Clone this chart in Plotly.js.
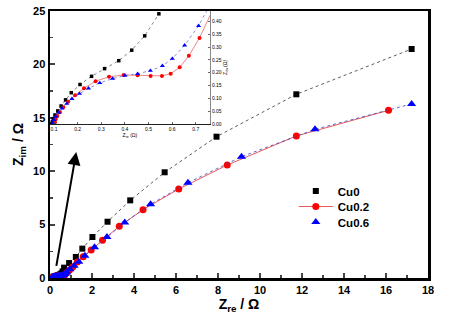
<!DOCTYPE html>
<html><head><meta charset="utf-8">
<script src="https://cdn.plot.ly/plotly-3.0.1.min.js"></script>
<style>html,body{margin:0;padding:0;background:#fff;}#chart{width:450px;height:316px;}</style>
</head><body><div id="chart"></div>
<script>
const seriesNames = ["Cu0", "Cu0.2", "Cu0.6"];
const cu0_x = [0.09,0.093,0.097,0.104,0.116,0.13,0.149,0.173,0.21,0.259,0.314,0.374,0.429,0.484,0.544,0.60,0.67,0.91,1.23,1.54,2.02,2.74,3.82,5.46,7.93,11.73,17.22];
const cu0_y = [0.0,0.009,0.021,0.035,0.051,0.07,0.094,0.122,0.154,0.186,0.216,0.247,0.288,0.344,0.43,0.62,0.97,1.4,1.97,2.75,3.84,5.27,7.27,9.9,13.23,17.2,21.44];
const cu02_x = [0.104,0.107,0.114,0.125,0.139,0.16,0.189,0.227,0.276,0.333,0.395,0.454,0.509,0.557,0.594,0.632,0.671,0.716,0.80,0.93,1.08,1.30,1.58,1.96,2.50,3.30,4.43,6.13,8.44,11.73,16.12];
const cu02_y = [0.007,0.018,0.031,0.046,0.065,0.087,0.112,0.139,0.167,0.184,0.191,0.19,0.1875,0.1875,0.196,0.221,0.266,0.336,0.5,0.74,1.03,1.5,2.0,2.62,3.53,4.84,6.4,8.33,10.58,13.3,15.7];
const cu06_x = [0.095,0.1,0.108,0.12,0.134,0.154,0.176,0.208,0.246,0.294,0.348,0.40,0.454,0.508,0.559,0.601,0.653,0.712,0.80,0.95,1.15,1.37,1.66,2.12,2.71,3.56,4.79,6.57,9.12,12.62,17.22];
const cu06_y = [0.003,0.016,0.029,0.044,0.061,0.079,0.098,0.118,0.139,0.16,0.177,0.189,0.196,0.208,0.227,0.255,0.307,0.383,0.55,0.82,1.15,1.53,2.09,2.87,3.84,5.2,6.9,8.92,11.36,13.92,16.3];
const insetTickVals = [0.1,0.2,0.3,0.4,0.5,0.6,0.7];
const insetTickText = ["0.1","0.2","0.3","0.4","0.5","0.6","0.7"];
const arrowFrom = [0.29, 1.0];
const arrowTo = [1.25, 11.8];

const F = "Liberation Sans, Arial, sans-serif";
const styles = [
  {color:"#000000", symbol:"square", size:6, line:{color:"#333", width:0.8, dash:"dot"}, legendLine:false},
  {color:"#ff0000", symbol:"circle", size:7, line:{color:"#e03030", width:0.8, dash:"solid"}, legendLine:true},
  {color:"#0000ff", symbol:"triangle-up", size:8, line:{color:"#4040c0", width:0.8, dash:"dot"}, legendLine:false}
];
const legendIds = ["legend", "legend2", "legend3"];
const xs = [cu0_x, cu02_x, cu06_x], ys = [cu0_y, cu02_y, cu06_y];
const traces = [];
for (let i=0;i<3;i++){
  if (!styles[i].legendLine){
    traces.push({x:xs[i], y:ys[i], type:"scatter", mode:"lines", showlegend:false,
      xaxis:"x", yaxis:"y", line:styles[i].line, hoverinfo:"skip"});
    traces.push({x:xs[i], y:ys[i], type:"scatter", mode:"markers", name:seriesNames[i],
      xaxis:"x", yaxis:"y", legend:legendIds[i],
      marker:{color:styles[i].color, symbol:styles[i].symbol, size:styles[i].size}});
  } else {
    traces.push({x:xs[i], y:ys[i], type:"scatter", mode:"lines+markers", name:seriesNames[i],
      xaxis:"x", yaxis:"y", legend:legendIds[i],
      marker:{color:styles[i].color, symbol:styles[i].symbol, size:styles[i].size},
      line:styles[i].line});
  }
}
const insetSizes=[3.5,4,4.5];
for (let i=0;i<3;i++){
  traces.push({x:xs[i], y:ys[i], type:"scatter", mode:"lines+markers", name:seriesNames[i],
    xaxis:"x2", yaxis:"y2", showlegend:false,
    marker:{color:styles[i].color, symbol:styles[i].symbol, size:insetSizes[i]},
    line:{color:styles[i].line.color, width:0.6, dash:styles[i].line.dash}});
}

function leg(y){
  return {x:0.645, y:y, xanchor:"left", yanchor:"top", bgcolor:"rgba(0,0,0,0)",
    font:{family:F, size:11.5, weight:"bold"}, itemwidth:34};
}
const layout = {
  width:450, height:316,
  margin:{l:50, r:22, t:11, b:38},
  paper_bgcolor:"#fff", plot_bgcolor:"rgba(0,0,0,0)",
  font:{family:F, color:"#000"},
  showlegend:true,
  legend:leg(0.380), legend2:leg(0.322), legend3:leg(0.264),
  xaxis:{domain:[0,1], range:[0,18], dtick:2, tick0:0, showline:true, linewidth:2.5, linecolor:"#000",
    mirror:true, ticks:"inside", ticklen:5, tickwidth:2, showgrid:false, zeroline:false,
    tickfont:{family:F, size:11, weight:"bold"},
    minor:{dtick:1, ticks:"inside", ticklen:3, tickwidth:1.5},
    title:{text:"Z<sub>re</sub> / Ω", font:{family:F, size:14, weight:"bold"}, standoff:2}},
  yaxis:{domain:[0,1], range:[0,25], dtick:5, showline:true, linewidth:2.5, linecolor:"#000",
    mirror:true, ticks:"inside", ticklen:5, tickwidth:2, showgrid:false, zeroline:false,
    tickfont:{family:F, size:11, weight:"bold"},
    minor:{dtick:2.5, ticks:"inside", ticklen:3, tickwidth:1.5},
    title:{text:"Z<sub>im</sub> / Ω", font:{family:F, size:14, weight:"bold"}, standoff:6}},
  xaxis2:{domain:[0,0.423], anchor:"y2", range:[0.083,0.76], tickvals:insetTickVals, ticktext:insetTickText,
    showline:true, linewidth:1, linecolor:"#222", ticks:"inside", ticklen:2, tickwidth:0.8,
    showgrid:false, zeroline:false, tickfont:{family:F, size:5}, ticklabelstandoff:0,
    title:{text:"Z<sub>re</sub> (Ω)", font:{family:F, size:5}, standoff:0}},
  yaxis2:{domain:[0.577,1], anchor:"x2", side:"right", range:[0,0.441], dtick:0.05, tickformat:".2f",
    showline:true, linewidth:1, linecolor:"#888", ticks:"inside", ticklen:2, tickwidth:0.8,
    showgrid:false, zeroline:false, tickfont:{family:F, size:5},
    title:{text:"Z<sub>im</sub> (Ω)", font:{family:F, size:5}, standoff:2}},
  annotations:[{x:arrowTo[0], y:arrowTo[1], ax:arrowFrom[0], ay:arrowFrom[1], xref:"x", yref:"y",
    axref:"x", ayref:"y", text:"", showarrow:true, arrowhead:2, arrowsize:1.3, arrowwidth:2, arrowcolor:"#000"}]
};
Plotly.newPlot("chart", traces, layout, {displayModeBar:false, staticPlot:true});
</script></body></html>
